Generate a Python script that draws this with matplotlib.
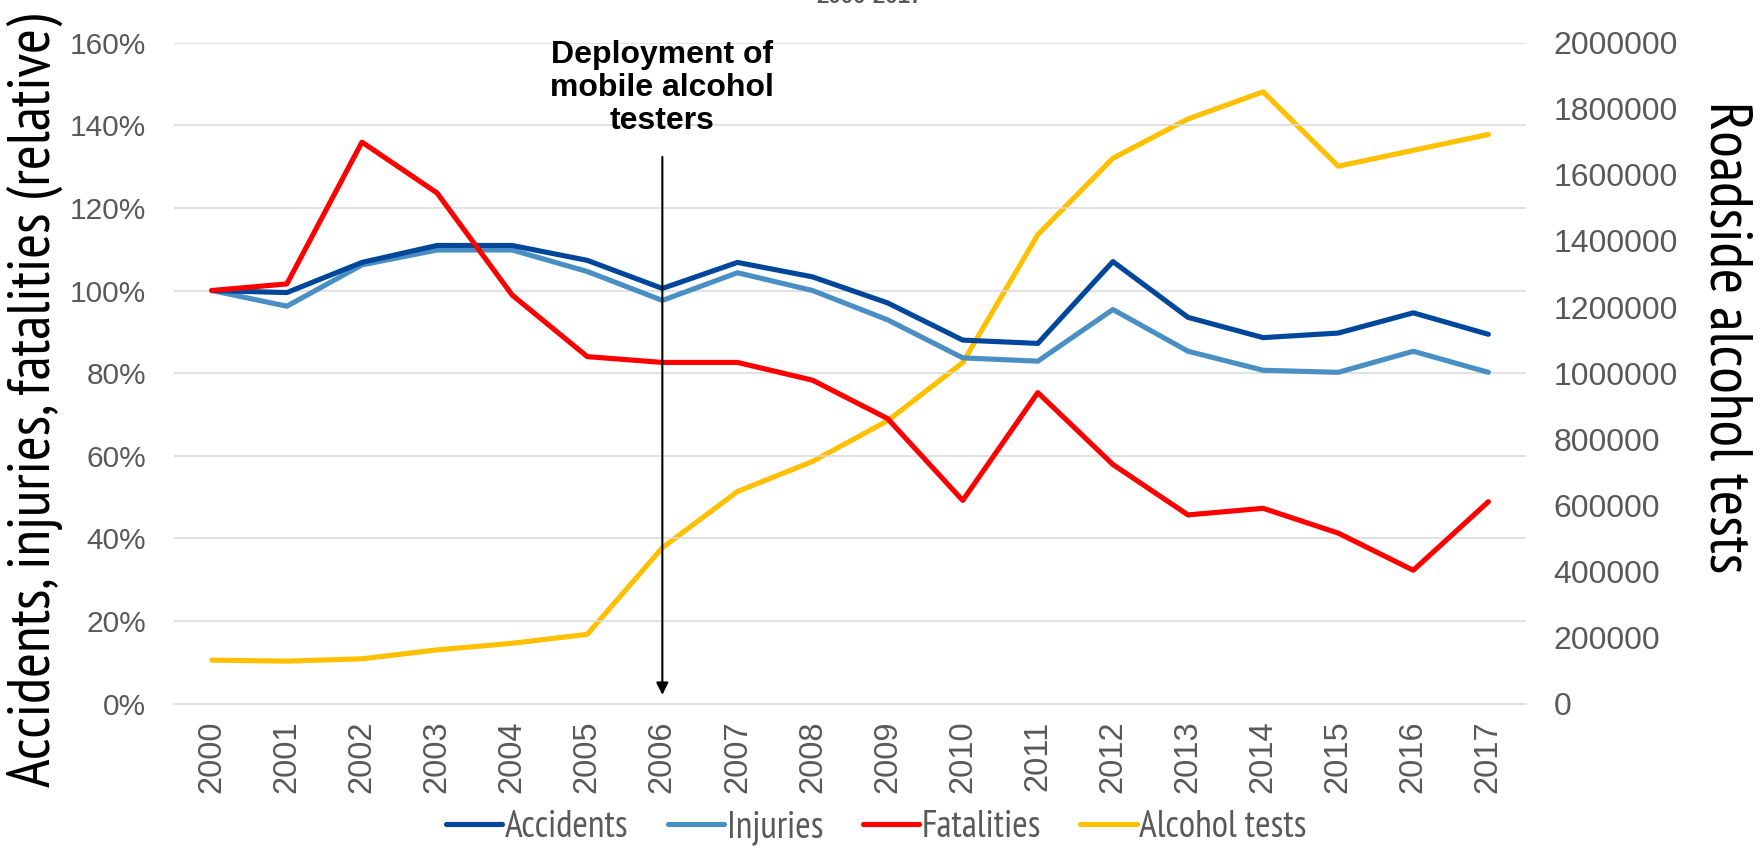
import matplotlib
matplotlib.use("Agg")
import matplotlib.pyplot as plt
from matplotlib import font_manager as fm
from matplotlib.ticker import FuncFormatter

years = [str(y) for y in range(2000, 2018)]
accidents = [100, 99.5, 106.8, 110.9, 110.9, 107.3, 100.5, 106.8, 103.3, 97.0,
             88.0, 87.2, 107.0, 93.5, 88.6, 89.7, 94.6, 89.4]
injuries = [100, 96.2, 106.2, 109.8, 109.8, 104.6, 97.6, 104.3, 100.0, 92.9,
            83.7, 82.9, 95.4, 85.3, 80.7, 80.2, 85.3, 80.2]
fatalities = [100, 101.6, 135.9, 123.6, 98.9, 84.0, 82.6, 82.6, 78.3, 69.0,
              49.2, 75.3, 57.9, 45.7, 47.3, 41.3, 32.3, 48.9]
alcohol_tests = [132000, 129000, 136000, 163000, 183000, 210000, 472000, 642000,
                 733000, 856000, 1032000, 1419000, 1650000, 1769000, 1851000,
                 1626000, 1674000, 1722000]
annot_year = "2006"
annot_text = "Deployment of\nmobile alcohol\ntesters"

installed = {f.name for f in fm.fontManager.ttflist}
narrow_pref = ['Liberation Sans Narrow', 'Arial Narrow', 'Arimo Narrow', 'PT Sans Narrow',
               'Roboto Condensed', 'Archivo Narrow', 'Open Sans Condensed', 'Pragati Narrow',
               'Encode Sans Condensed', 'Fira Sans Condensed']
narrow = next((n for n in narrow_pref if n in installed), 'Liberation Sans')
NARROW = [narrow, 'DejaVu Sans']
REG = ['Liberation Sans', 'Arimo', 'DejaVu Sans']
GRAY = '#595959'
GRID = '#D9D9D9'

fig = plt.figure(figsize=(17.6, 8.51), dpi=100)
ax = fig.add_axes([0.099, 0.173, 0.768, 0.777])
ax2 = ax.twinx()

x = list(range(len(years)))
lw = 3.7
c_acc, c_inj, c_fat, c_alc = '#00479C', '#4A8FC4', '#FF0000', '#FFC000'
kw = dict(lw=lw, solid_capstyle='round', solid_joinstyle='round')

l4, = ax2.plot(x, alcohol_tests, color=c_alc, label='Alcohol tests', **kw)
ax.set_zorder(ax2.get_zorder() + 1)
ax.patch.set_visible(False)
l2, = ax.plot(x, injuries, color=c_inj, label='Injuries', **kw)
l1, = ax.plot(x, accidents, color=c_acc, label='Accidents', **kw)
l3, = ax.plot(x, fatalities, color=c_fat, label='Fatalities', **kw)

ax.set_xlim(-0.5, len(years) - 0.5)
ax.set_ylim(0, 160)
ax.set_yticks(range(0, 161, 20))
ax.yaxis.set_major_formatter(FuncFormatter(lambda v, p: f"{int(v)}%"))
ax2.set_ylim(0, 2000000)
ax2.set_yticks(range(0, 2000001, 200000))
ax2.yaxis.set_major_formatter(FuncFormatter(lambda v, p: f"{int(v)}"))

ax.set_xticks(x)
ax.set_xticklabels(years, rotation=90)

for a in (ax, ax2):
    for s in ('top', 'left', 'right'):
        a.spines[s].set_visible(False)
    a.spines['bottom'].set_color(GRID)
    a.spines['bottom'].set_linewidth(1.1)
    a.tick_params(length=0, colors=GRAY, pad=20)
    for lab in a.get_yticklabels() + a.get_xticklabels():
        lab.set_family(REG)
ax.tick_params(axis='y', labelsize=21.5)
ax2.tick_params(axis='y', labelsize=23)
ax.tick_params(axis='x', pad=12, labelsize=23.5)
ax2.spines['bottom'].set_visible(False)

for v in range(20, 161, 20):
    ax.axhline(v, color=GRID, lw=1.1, zorder=0)
ax2.grid(False)

ax.set_ylabel("Accidents, injuries, fatalities (relative)", fontsize=43.5, family=NARROW,
              color='black', va='center')
ax.yaxis.set_label_coords(-0.103, 0.458)
ax2.set_ylabel("Roadside alcohol tests", fontsize=44, family=NARROW, color='black',
               rotation=270, va='center')
ax2.yaxis.set_label_coords(1.148, 0.555)

xi = years.index(annot_year)
ax.annotate('', xy=(xi, 1.5), xytext=(xi, 133),
            arrowprops=dict(arrowstyle='-|>', color='black', lw=1.5, mutation_scale=18))
ax.text(xi, 160.5, annot_text, ha='center', va='top', fontsize=23, fontweight='bold',
        family=REG, color='black', linespacing=1.13)

fig.text(0.494, 1 - 3 / 851, "2000-2017", ha='center', va='baseline', fontsize=16,
         fontweight='bold', color=GRAY, family=REG)

leg = fig.legend([l1, l2, l3, l4], ['Accidents', 'Injuries', 'Fatalities', 'Alcohol tests'],
                 loc='center', bbox_to_anchor=(0.498, 0.028), ncol=4, frameon=False,
                 prop={'family': NARROW, 'size': 27}, handlelength=1.5, handletextpad=0.07,
                 columnspacing=1.05, borderpad=0.2)
for t in leg.get_texts():
    t.set_color(GRAY)
for h in leg.legend_handles:
    h.set_solid_capstyle('round')
    h.set_linewidth(lw)

fig.savefig('out.png', dpi=100)
